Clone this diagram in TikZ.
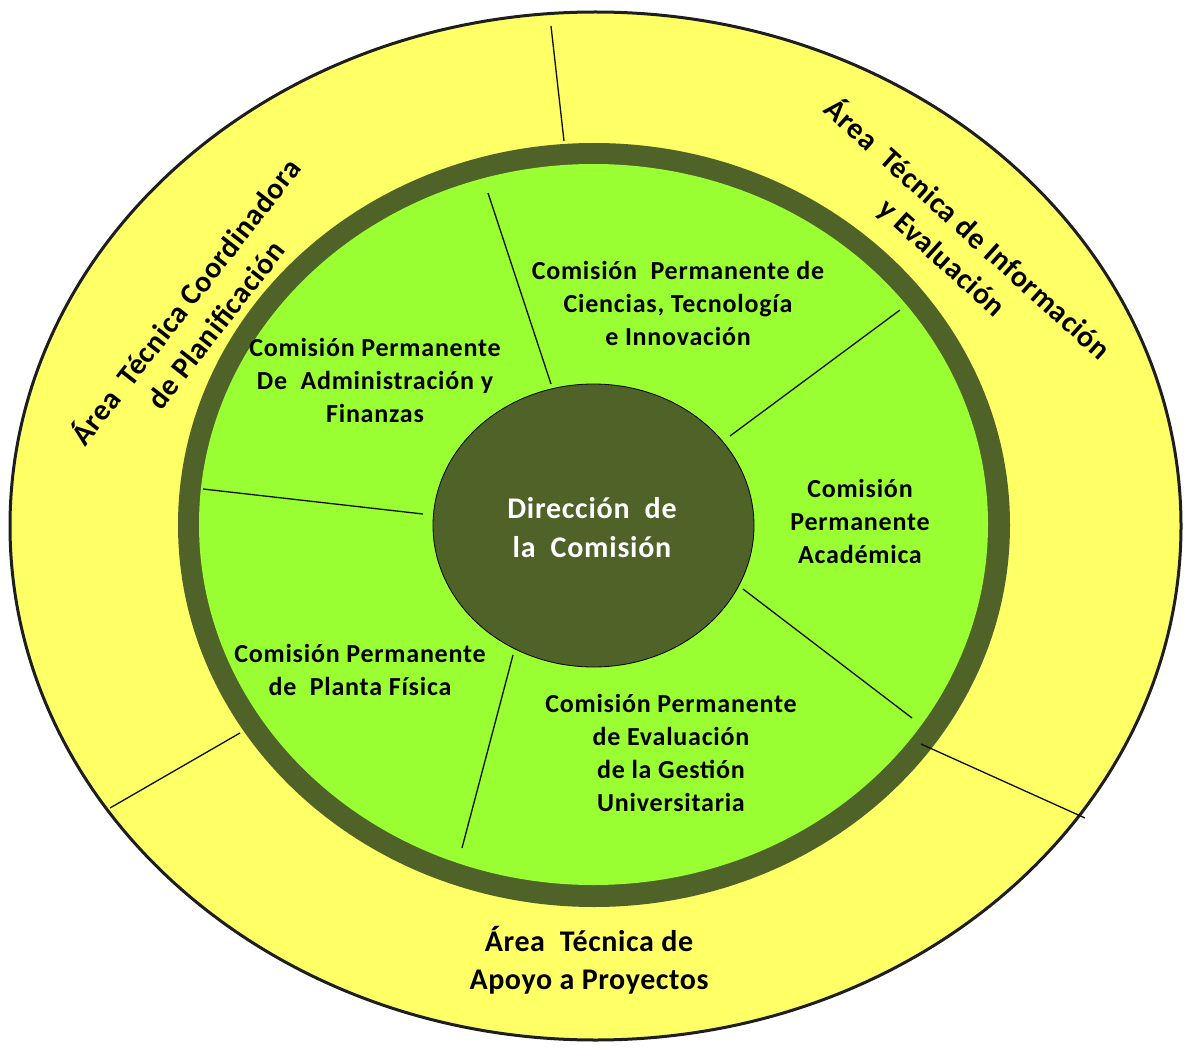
\documentclass[tikz,border=0pt]{standalone}
\usepackage{fontspec}
\setmainfont{Carlito}
\usetikzlibrary{shapes.geometric}
\definecolor{yel}{HTML}{FFFF66}
\definecolor{lgreen}{HTML}{99FF33}
\definecolor{olive}{HTML}{4F6228}
\definecolor{edge}{HTML}{1E1E1E}
\begin{document}
\begin{tikzpicture}[x=1pt,y=-1pt,
  inlabel/.style={font=\fontsize{26}{33}\selectfont\bfseries\addfontfeatures{LetterSpace=3}, align=center, text=black, inner sep=0pt},
  outlabel/.style={font=\fontsize{30}{38}\selectfont\bfseries\addfontfeatures{LetterSpace=2}, align=center, text=black, inner sep=0pt},
  divider/.style={draw=black!85!olive, line width=1.3pt}]
\useasboundingbox (0,0) rectangle (1184,1051);
% outer yellow ellipse
\fill[yel, draw=edge, line width=3pt] (595.5,526) ellipse [x radius=585.5pt, y radius=514pt];
% dark ring and green disc
\fill[olive] (594,525) ellipse [x radius=416pt, y radius=382pt];
\fill[lgreen] (593.5,524.5) ellipse [x radius=394.5pt, y radius=360.5pt];
% central ellipse
\node[ellipse, fill=olive, draw=black, line width=0.8pt, minimum width=321pt, minimum height=283pt, inner sep=0pt] (dir) at (593.5,525.5) {};
\node[font=\fontsize{30}{39}\selectfont\bfseries\addfontfeatures{LetterSpace=2.5}, align=center, text=white, inner sep=0pt] (dirtext) at (592,528) {Dirección~ de\\la~ Comisión};
% divider end points
\coordinate (a1) at (488,193);  \coordinate (a2) at (551,384);
\coordinate (b1) at (900,310);  \coordinate (b2) at (730,436);
\coordinate (c1) at (912,718);  \coordinate (c2) at (743,589);
\coordinate (d1) at (462,848);  \coordinate (d2) at (513,655);
\coordinate (e1) at (203,489);  \coordinate (e2) at (423,514);
\coordinate (f1) at (551,26);   \coordinate (f2) at (564,141);
\coordinate (g1) at (1085,818); \coordinate (g2) at (921,744);
\coordinate (h1) at (110,808);  \coordinate (h2) at (240,733);
\foreach \p in {a,b,c,d,e,f,g,h} {\draw[divider] (\p1) -- (\p2);}
% inner labels
\node[inlabel] (adm) at (375,380) {Comisión Permanente\\De~ Administración y\\Finanzas};
\node[inlabel] (cie) at (678,303) {Comisión~ Permanente de\\Ciencias, Tecnología\\e Innovación};
\node[inlabel] (aca) at (860,521) {Comisión\\Permanente\\Académica};
\node[inlabel] (eva) at (671,753) {Comisión Permanente\\de Evaluación\\de la Gestión\\Universitaria};
\node[inlabel] (pla) at (360,670) {Comisión Permanente\\de~ Planta Física};
% outer labels
\node[outlabel, rotate=52] (pla2) at (199,312) {Área~ Técnica Coordinadora\\de Planificación};
\node[outlabel, rotate=-42] (inf) at (955,243) {Área~ Técnica de Información\\y Evaluación};
\node[outlabel] (apo) at (589,960) {Área~ Técnica de\\Apoyo a Proyectos};
\end{tikzpicture}
\end{document}
